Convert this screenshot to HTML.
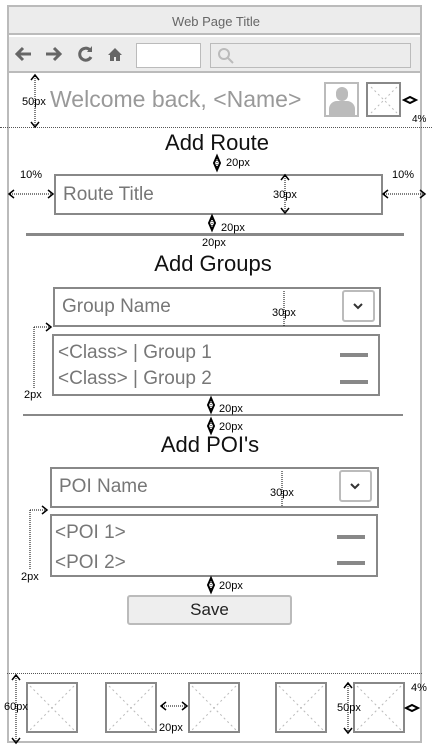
<!DOCTYPE html>
<html><head><meta charset="utf-8">
<style>
body{margin:0;width:432px;height:752px;background:#fff;font-family:"Liberation Sans",Arial,sans-serif;position:relative;overflow:hidden}
.a{position:absolute;box-sizing:border-box}
.t{position:absolute;white-space:nowrap}
.box{border:2px solid #888;background:#fff}
.dash{position:absolute;height:4px;background:#888;width:28px}
.dd{border:2px solid #bbb;border-radius:3px;background:#fff}
</style></head><body>
<div class="a" style="left:7px;top:5px;width:415px;height:738px;border:2px solid #bbb"></div>
<div class="a" style="left:9px;top:7px;width:411px;height:28px;background:#ececec;border-bottom:2px solid #bbb"></div>
<div class="t" style="left:0;width:432px;text-align:center;top:14px;font-size:13px;color:#666">Web Page Title</div>
<div class="a" style="left:9px;top:37px;width:411px;height:36px;background:#ececec;border-bottom:2px solid #bbb"></div>
<svg class="a" style="left:0;top:0" width="432" height="752">
<g fill="none" stroke="#666" stroke-width="3">
<path d="M31 54H17M23 48l-6 6 6 6"/>
<path d="M46 54h14M54 48l6 6-6 6"/>
<path d="M90 50a6 6 0 1 0 1 7"/>
</g>
<path d="M92 46v6h-5z" fill="#666"/>
<path d="M108 55l7-7 7 7h-2v6h-4v-4h-2v4h-4v-6z" fill="#666"/>
<circle cx="224" cy="54" r="5" fill="none" stroke="#bbb" stroke-width="2"/><path d="M228 58l5 5" stroke="#bbb" stroke-width="2"/>
</svg>
<div class="a" style="left:136px;top:43px;width:65px;height:25px;border:1px solid #bbb;background:#fff"></div>
<div class="a" style="left:210px;top:43px;width:201px;height:25px;border:1px solid #bbb;background:transparent"></div>

<div class="t" style="left:50px;top:86px;font-size:23px;color:#999">Welcome back, &lt;Name&gt;</div>
<div class="a" style="left:324px;top:82px;width:35px;height:35px;border:2px solid #bbb;background:#fff;overflow:hidden">
<div class="a" style="left:10px;top:3px;width:12px;height:14px;border-radius:6px;background:#bbb"></div>
<div class="a" style="left:3px;top:17px;width:26px;height:16px;border-radius:8px 8px 0 0;background:#bbb"></div></div>
<div class="a box" style="left:366px;top:82px;width:35px;height:35px"></div>
<div class="a" style="left:0;top:127px;width:432px;border-top:1px dotted #555"></div>

<div class="t" style="left:0;width:434px;text-align:center;top:130px;font-size:22px;color:#111">Add Route</div>
<div class="a box" style="left:54px;top:174px;width:329px;height:41px"></div>
<div class="t" style="left:63px;top:184px;font-size:19px;color:#777">Route Title</div>
<div class="a" style="left:26px;top:233px;width:378px;height:3px;background:#888"></div>

<div class="t" style="left:0;width:426px;text-align:center;top:251px;font-size:22px;color:#111">Add Groups</div>
<div class="a box" style="left:53px;top:287px;width:328px;height:40px"></div>
<div class="t" style="left:62px;top:296px;font-size:19px;color:#777">Group Name</div>
<div class="a dd" style="left:342px;top:290px;width:33px;height:32px"><svg width="29" height="28"><path d="M10 12l4 4 4-4" fill="none" stroke="#333" stroke-width="2"/></svg></div>
<div class="a box" style="left:52px;top:334px;width:328px;height:62px"></div>
<div class="t" style="left:58px;top:342px;font-size:19px;color:#777">&lt;Class&gt; | Group 1</div>
<div class="t" style="left:58px;top:368px;font-size:19px;color:#777">&lt;Class&gt; | Group 2</div>
<div class="dash" style="left:340px;top:353px"></div>
<div class="dash" style="left:340px;top:380px"></div>
<div class="a" style="left:23px;top:414px;width:380px;height:2px;background:#888"></div>

<div class="t" style="left:0;width:420px;text-align:center;top:432px;font-size:22px;color:#111">Add POI's</div>
<div class="a box" style="left:50px;top:467px;width:329px;height:41px"></div>
<div class="t" style="left:59px;top:476px;font-size:19px;color:#777">POI Name</div>
<div class="a dd" style="left:339px;top:470px;width:33px;height:32px"><svg width="29" height="28"><path d="M10 12l4 4 4-4" fill="none" stroke="#333" stroke-width="2"/></svg></div>
<div class="a box" style="left:50px;top:514px;width:328px;height:63px"></div>
<div class="t" style="left:55px;top:522px;font-size:19px;color:#777">&lt;POI 1&gt;</div>
<div class="t" style="left:55px;top:552px;font-size:19px;color:#777">&lt;POI 2&gt;</div>
<div class="dash" style="left:337px;top:535px"></div>
<div class="dash" style="left:337px;top:561px"></div>

<div class="a" style="left:127px;top:595px;width:165px;height:30px;background:#eee;border:2px solid #bbb;border-radius:3px;text-align:center;line-height:26px;font-size:17px;color:#222">Save</div>

<div class="a" style="left:7px;top:673px;width:415px;border-top:1px dotted #555"></div>
<div class="a box" style="left:26px;top:682px;width:52px;height:51px"></div>
<div class="a box" style="left:105px;top:682px;width:52px;height:51px"></div>
<div class="a box" style="left:188px;top:682px;width:52px;height:51px"></div>
<div class="a box" style="left:275px;top:682px;width:52px;height:51px"></div>
<div class="a box" style="left:353px;top:682px;width:52px;height:51px"></div>

<svg class="a" style="left:0;top:0" width="432" height="752">
<g stroke="#bbb" stroke-width="1" stroke-dasharray="2 3">
<path d="M371 87l26 26M397 87l-26 26"/>
<path d="M30 686l44 44M74 686l-44 44M109 686l44 44M153 686l-44 44M192 686l44 44M236 686l-44 44M279 686l44 44M323 686l-44 44M357 686l44 44M401 686l-44 44"/>
</g>
<g stroke="#000" stroke-width="1" stroke-dasharray="1 1" fill="none">
<path d="M35 76v50M10 194h42M384 194h40M285 176v36M284 291v36M282 471v36M217 156v16M212 217v14M211 398v14M211 419v14M211 578v14M34 327h16M34 327v62M30 510h16M30 510v60M16 676v66M348 684v48M162 706h24"/>
</g>
<g stroke="#000" stroke-width="1.5" fill="none">
<path d="M31 80l4-5 4 5M31 122l4 5 4-5M14 190l-5 4 5 4M48 190l5 4-5 4M388 190l-5 4 5 4M420 190l5 4-5 4M281 180l4-5 4 5M281 208l4 5 4-5M46 323l5 4-5 4M42 506l5 4-5 4M12 680l4-5 4 5M12 738l4 5 4-5M166 702l-5 4 5 4M182 702l5 4-5 4M344 688l4-5 4 5M344 728l4 5 4-5"/>
</g>
<g fill="none" stroke="#000" stroke-width="2"><path d="M217 156l-3 7 3 7 3-7zM212 216l-3 7 3 7 3-7zM211 398l-3 7 3 7 3-7zM211 419l-3 7 3 7 3-7zM211 578l-3 7 3 7 3-7zM404 100l6-3 6 3-6 3zM406 708l6-3 6 3-6 3z"/></g>
<g font-family="Liberation Sans,sans-serif" font-size="11" fill="#000">
<text x="22" y="105">50px</text><text x="412" y="122" font-size="10">4%</text>
<text x="226" y="166">20px</text><text x="20" y="178">10%</text><text x="392" y="178">10%</text>
<text x="273" y="198">30px</text><text x="221" y="231">20px</text><text x="202" y="246">20px</text>
<text x="272" y="316">30px</text><text x="24" y="398">2px</text><text x="219" y="412">20px</text><text x="219" y="430">20px</text>
<text x="270" y="496">30px</text><text x="21" y="580">2px</text><text x="219" y="589">20px</text>
<text x="4" y="710">60px</text><text x="159" y="731">20px</text><text x="337" y="711">50px</text><text x="411" y="691">4%</text>
</g>
</svg>
</body></html>
